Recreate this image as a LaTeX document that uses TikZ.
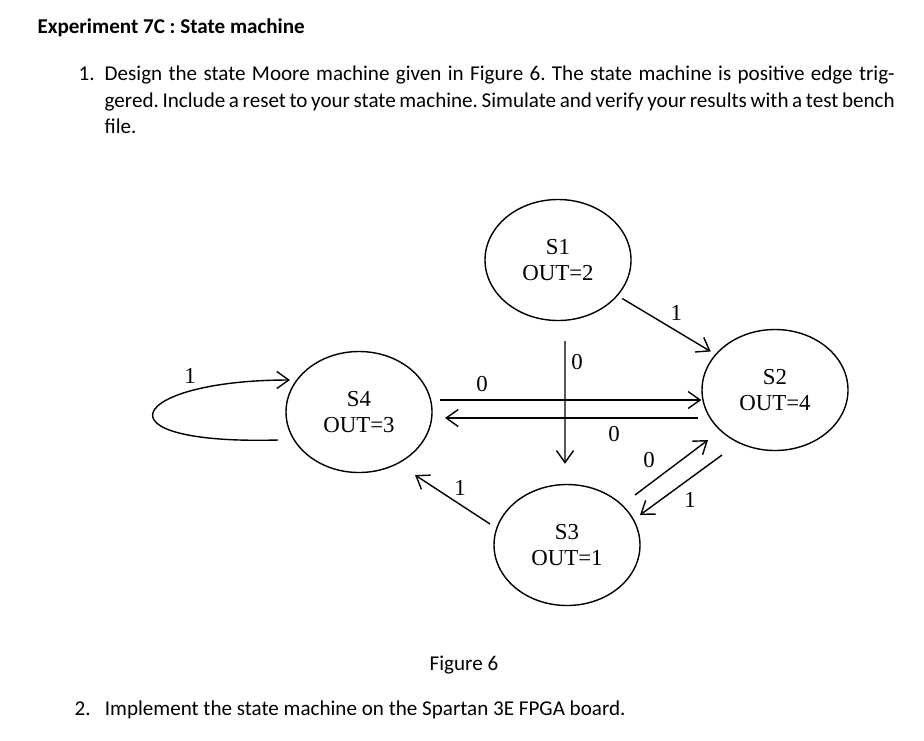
\documentclass[tikz,border=0pt]{standalone}
\usepackage{fontspec}
\setmainfont{Carlito}
\newfontfamily\timesfont{Liberation Serif}
\usetikzlibrary{calc, shapes, arrows.meta, positioning}
\tikzstyle{state} = [ellipse, draw, thick, minimum width=2.92cm, minimum height=2.42cm, align=center, font=\timesfont\fontsize{13}{15}\selectfont]
\tikzstyle{lbl} = [font=\timesfont\fontsize{13}{15}\selectfont]

\begin{document}
\begin{tikzpicture}[>={Straight Barb[length=2.4mm,width=3.4mm]}, thick]
    \useasboundingbox (0, 0) rectangle (18.48, -14.8);
    % text around the figure
    \node[anchor=west, font=\bfseries\fontsize{12}{14}\selectfont] at (0.62, -0.56) (title) {Experiment 7C : State machine};
    \node[anchor=north west, font=\fontsize{12}{14}\selectfont] at (1.44, -1.2) (one) {1.};
    \node[anchor=north west, text width=15.8cm, align=justify, inner sep=0pt, font=\fontsize{12}{15.2}\selectfont] at (2.08, -1.3) (task) {\hyphenpenalty=10000\frenchspacing Design the state Moore machine given in Figure 6. The state machine is positive edge triggered. Include a reset to your state machine. Simulate and verify your results with a test bench file.};
    \node[font=\fontsize{12}{14}\selectfont] at (9.28, -13.3) (caption) {Figure 6};
    \node[anchor=west, font=\fontsize{12}{14}\selectfont] at (1.36, -14.2) (two) {2.\ \ \ Implement the state machine on the Spartan 3E FPGA board.};

    % states
    \node[state] at (11.16, -5.2) (S1) {S1\\OUT=2};
    \node[state] at (15.5, -7.8) (S2) {S2\\OUT=4};
    \node[state] at (11.34, -10.9) (S3) {S3\\OUT=1};
    \node[state] at (7.18, -8.24) (S4) {S4\\OUT=3};
    \coordinate (a42) at (8.8, -8.0);
    \coordinate (a24) at (13.96, -8.36);

    % transitions
    \draw[->, shorten <=3pt, shorten >=3pt] (S1) -- node[lbl, above right=-2pt] {1} (S2);
    \draw[->] ([xshift=0.14cm, yshift=-0.4cm]S1.south) -- ([xshift=-0.04cm, yshift=0.4cm]S3.north);
    \node[lbl] at (11.54, -7.24) (l13) {0};
    \draw[->] (a42) -- (a42 -| S2.west);
    \node[lbl] at (9.64, -7.68) (l42) {0};
    \draw[->] (a24) -- (a24 -| 8.9, 0);
    \node[lbl] at (12.28, -8.68) (l24) {0};
    \draw[->] ([shift={(1.36, 1.0)}]S3.center) -- ([shift={(-1.34, -1.0)}]S2.center);
    \node[lbl] at (12.98, -9.2) (l32) {0};
    \draw[->] ([shift={(-1.06, -1.3)}]S2.center) -- ([shift={(1.46, 0.6)}]S3.center);
    \node[lbl] at (13.8, -10.0) (l23) {1};
    \draw[->] ([shift={(-1.54, 0.42)}]S3.center) -- ([shift={(1.12, -1.26)}]S4.center);
    \node[lbl] at (9.2, -9.76) (l34) {1};
    \draw[->] ([shift={(-1.62, -0.56)}]S4.center) .. controls (1.8, -8.9) and (2.6, -7.6) .. ([shift={(-1.38, 0.64)}]S4.center);
    \node[lbl] at (3.8, -7.52) (l44) {1};
\end{tikzpicture}
\end{document}
